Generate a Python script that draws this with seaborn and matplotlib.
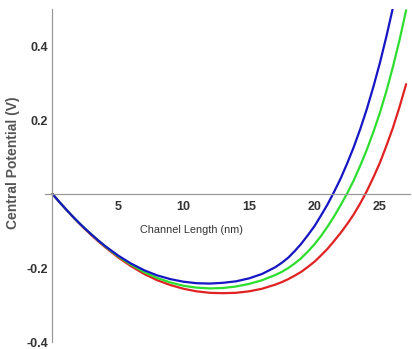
import numpy as np
import pandas as pd
import matplotlib
matplotlib.use("Agg")
import matplotlib.pyplot as plt
from matplotlib.ticker import MultipleLocator, FixedLocator, FixedFormatter
import seaborn as sns

# Channel position (nm): finer steps near the source end and the drain rise
x_common = [0, 0.5, 1, 1.5, 2, 2.5, 3, 3.5, 4, 5, 6, 7, 8, 9, 10, 11, 12, 13, 14,
            15, 16, 17, 17.5, 18, 18.5, 19, 19.5, 20, 20.5, 21, 21.5, 22, 22.5,
            23, 23.5, 24, 24.5, 25, 25.5, 26]
x_blue = x_common
x_green = x_common + [26.5, 27]
x_red = x_common + [26.5, 27]

# Central potential (V) for the three device cases
v_blue = [0.0, -0.0205, -0.040, -0.0590, -0.077, -0.0940, -0.110, -0.1255, -0.140,
          -0.166, -0.188, -0.206, -0.220, -0.230, -0.237, -0.241, -0.242, -0.240,
          -0.236, -0.228, -0.216, -0.198, -0.186, -0.172, -0.154, -0.134, -0.111,
          -0.087, -0.058, -0.028, 0.006, 0.042, 0.083, 0.127, 0.176, 0.230, 0.290,
          0.355, 0.427, 0.505]
v_green = [0.0, -0.0205, -0.040, -0.0590, -0.077, -0.0940, -0.110, -0.1258, -0.141,
           -0.168, -0.191, -0.211, -0.227, -0.239, -0.248, -0.253, -0.255, -0.254,
           -0.250, -0.243, -0.233, -0.219, -0.2105, -0.200, -0.1875, -0.173, -0.1555,
           -0.136, -0.1135, -0.088, -0.0605, -0.030, 0.002, 0.037, 0.077, 0.120,
           0.168, 0.220, 0.279, 0.345, 0.417, 0.497]
v_red = [0.0, -0.0205, -0.040, -0.0595, -0.078, -0.0955, -0.112, -0.128, -0.143,
         -0.171, -0.195, -0.216, -0.233, -0.246, -0.256, -0.263, -0.267, -0.268,
         -0.267, -0.263, -0.256, -0.245, -0.2382, -0.230, -0.2205, -0.210, -0.197,
         -0.183, -0.166, -0.148, -0.127, -0.105, -0.081, -0.055, -0.025, 0.008,
         0.045, 0.085, 0.131, 0.180, 0.236, 0.297]

x_ticks = [5, 10, 15, 20, 25]
y_ticks = [-0.4, -0.2, 0.2, 0.4]
y_tick_labels = ["-0.4", "-0.2", "0.2", "0.4"]

df = pd.concat([
    pd.DataFrame({"x": x_red, "v": v_red, "case": "red"}),
    pd.DataFrame({"x": x_green, "v": v_green, "case": "green"}),
    pd.DataFrame({"x": x_blue, "v": v_blue, "case": "blue"}),
])

sns.set_style("white")
plt.rcParams["font.family"] = ["Liberation Sans Narrow", "Liberation Sans", "DejaVu Sans"]
plt.rcParams["axes.unicode_minus"] = False

fig = plt.figure(figsize=(4.12, 3.49), dpi=100)
ax = fig.add_axes([0.1083, 0.020, 0.887, 0.954])

palette = {"red": "#e02222", "green": "#2ede2e", "blue": "#1616c4"}
for case in ["red", "green", "blue"]:
    sub = df[df["case"] == case]
    sns.lineplot(data=sub, x="x", y="v", color=palette[case], lw=1.6,
                 ax=ax, legend=False, sort=True)
for line in ax.get_lines():
    line.set_solid_joinstyle("round")
    line.set_solid_capstyle("round")

ax.set_xlim(-0.6, 27.3)
ax.set_ylim(-0.4, 0.5)

for s in ["top", "right"]:
    ax.spines[s].set_visible(False)
ax.spines["left"].set_position(("data", 0))
ax.spines["bottom"].set_position(("data", 0))
for s in ["left", "bottom"]:
    ax.spines[s].set_color("#9a9a9a")
    ax.spines[s].set_linewidth(0.9)

ax.xaxis.set_major_locator(FixedLocator(x_ticks))
ax.xaxis.set_minor_locator(MultipleLocator(1))
ax.yaxis.set_major_locator(FixedLocator(y_ticks))
ax.yaxis.set_major_formatter(FixedFormatter(y_tick_labels))
ax.yaxis.set_minor_locator(MultipleLocator(0.05))

ax.tick_params(which="both", direction="in", color="#9a9a9a", width=0.7)
ax.tick_params(which="major", length=4)
ax.tick_params(which="minor", length=2.2)
ax.tick_params(axis="x", which="major", pad=5, labelsize=9, labelcolor="#333333")
ax.tick_params(axis="y", which="major", pad=3, labelsize=9, labelcolor="#333333")
for lab in ax.get_xticklabels() + ax.get_yticklabels():
    lab.set_fontweight("bold")

ax.set_xlabel("")
ax.set_ylabel("")
ax.text(10.6, -0.097, "Channel Length (nm)", ha="center", va="center",
        fontsize=7.8, color="#333333")
fig.text(0.032, 0.533, "Central Potential (V)", rotation=90, ha="center",
         va="center", fontsize=10, fontweight="bold", color="#555555",
         family=["Liberation Sans", "DejaVu Sans"])

fig.savefig("out.png", dpi=100)
